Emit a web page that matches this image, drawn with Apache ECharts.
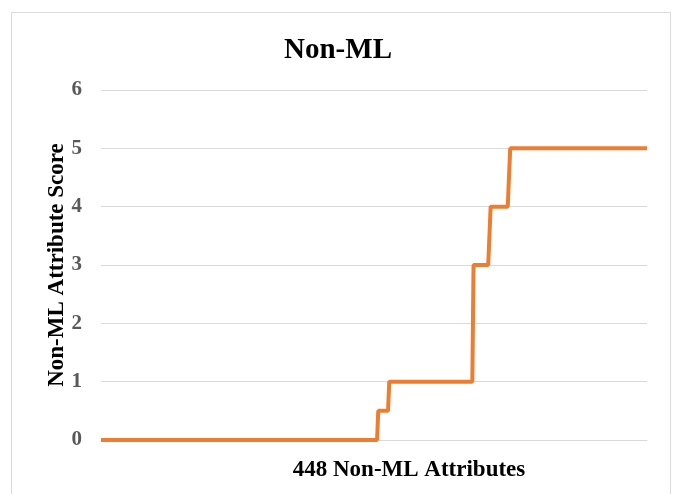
<!DOCTYPE html>
<html>
<head>
<meta charset="utf-8">
<style>
html, body { margin: 0; padding: 0; background: #fff; }
#chart { width: 676px; height: 494px; }
</style>
<script src="https://cdn.jsdelivr.net/npm/echarts@6/dist/echarts.min.js"></script>
</head>
<body>
<div id="chart"></div>
<script>
// score levels and how many of the 448 attributes sit at each level (sorted ascending)
var scoreLevels = [0, 0.5, 1, 3, 4, 5];
var attributeCounts = [227, 9, 69, 14, 16, 113];
var yTicks = [0, 1, 2, 3, 4, 5, 6];

// expand into one value per attribute
var scores = [];
var attrIndex = [];
for (var i = 0; i < scoreLevels.length; i++) {
    for (var j = 0; j < attributeCounts[i]; j++) {
        attrIndex.push(attrIndex.length + 1);
        scores.push(scoreLevels[i]);
    }
}

var chart = echarts.init(document.getElementById('chart'));

var serif = '"Liberation Serif", "Times New Roman", serif';

var option = {
    animation: false,
    backgroundColor: '#fff',
    graphic: [{
        type: 'rect',
        shape: { x: 11.5, y: 12.5, width: 659, height: 490 },
        style: { fill: 'none', stroke: '#d9d9d9', lineWidth: 1 }
    }],
    title: {
        text: 'Non-ML',
        left: 'center',
        top: 31,
        textStyle: { fontFamily: serif, fontSize: 29, fontWeight: 'bold', color: '#000' }
    },
    grid: { left: 101, right: 29, top: 90, bottom: 54 },
    xAxis: {
        type: 'category',
        data: attrIndex,
        boundaryGap: false,
        name: '448 Non-ML Attributes',
        nameLocation: 'middle',
        nameGap: 19,
        nameMoveOverlap: false,
        nameTextStyle: { fontFamily: serif, fontSize: 23, fontWeight: 'bold', color: '#000', padding: [0, 0, 0, 70] },
        axisLine: { lineStyle: { color: '#d9d9d9', width: 1 } },
        axisTick: { show: false },
        axisLabel: { show: false },
        splitLine: { show: false }
    },
    yAxis: {
        type: 'value',
        min: yTicks[0],
        max: yTicks[yTicks.length - 1],
        interval: 1,
        name: 'Non-ML Attribute Score',
        nameLocation: 'middle',
        nameGap: 32,
        nameMoveOverlap: false,
        nameTextStyle: { fontFamily: serif, fontSize: 23, fontWeight: 'bold', color: '#000' },
        axisLine: { show: false },
        axisTick: { show: false },
        axisLabel: { fontFamily: serif, fontSize: 21, fontWeight: 'bold', color: '#595959', margin: 19 },
        splitLine: { lineStyle: { color: '#d9d9d9', width: 1 } }
    },
    series: [{
        type: 'line',
        data: scores,
        showSymbol: false,
        lineStyle: { color: '#ED7D31', width: 4 },
        itemStyle: { color: '#ED7D31' }
    }]
};

chart.setOption(option);
</script>
</body>
</html>
